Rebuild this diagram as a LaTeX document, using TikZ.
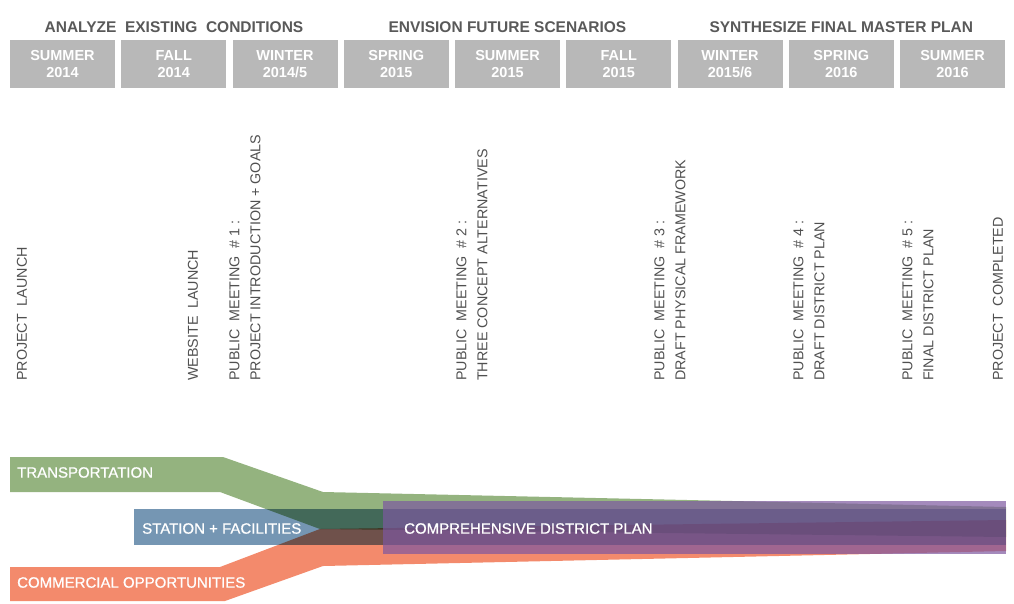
\documentclass[tikz,border=0pt]{standalone}
\usepackage{fontspec}
\setmainfont{Liberation Sans}
\newfontfamily\bandfont[FakeBold=0.8]{Liberation Sans}
\definecolor{hdrgray}{RGB}{184,184,184}
\definecolor{titlegray}{RGB}{89,89,89}
\definecolor{txtgray}{RGB}{80,80,80}
\definecolor{transgreen}{RGB}{148,179,127}
\definecolor{stationblue}{RGB}{117,150,179}
\definecolor{commorange}{RGB}{243,138,108}
\definecolor{planpurple}{RGB}{125,88,160}
\tikzset{
  season/.style={fill=hdrgray,minimum width=105pt,minimum height=48pt,inner sep=0pt,
    align=center,text=white,font=\bfseries\fontsize{14.5}{17.5}\selectfont},
  phase/.style={inner sep=0pt,text=titlegray,font=\bfseries\fontsize{15.5}{18}\selectfont},
  milestone/.style={rotate=90,anchor=west,align=left,inner sep=0pt,text=txtgray,
    font=\fontsize{14.3}{21}\selectfont},
  bandlabel/.style={anchor=west,inner sep=0pt,text=white,font=\bandfont\fontsize{15}{18}\selectfont}
}

\begin{document}
\begin{tikzpicture}[x=1pt,y=-1pt]
    \useasboundingbox (0,0) rectangle (1014,603);
    %
    % -- Phases over the seasons
    \node [phase] (analyze)    at (174,27)    {ANALYZE~ EXISTING~ CONDITIONS};
    \node [phase] (envision)   at (507.5,27)  {ENVISION FUTURE SCENARIOS};
    \node [phase] (synthesize) at (841.25,27) {SYNTHESIZE FINAL MASTER PLAN};

    % -- Seasons
    \node [season] (su14) at (62.5,64)   {SUMMER\\2014};
    \node [season] (fa14) at (173.75,64) {FALL\\2014};
    \node [season] (wi14) at (285,64)    {WINTER\\2014/5};
    \node [season] (sp15) at (396.25,64) {SPRING\\2015};
    \node [season] (su15) at (507.5,64)  {SUMMER\\2015};
    \node [season] (fa15) at (618.75,64) {FALL\\2015};
    \node [season] (wi15) at (730,64)    {WINTER\\2015/6};
    \node [season] (sp16) at (841.25,64) {SPRING\\2016};
    \node [season] (su16) at (952.5,64)  {SUMMER\\2016};

    % -- Milestones, read from the bottom up
    \node [milestone] (launch)  at (22,381)  {PROJECT~ LAUNCH};
    \node [milestone] (website) at (193,381) {WEBSITE~ LAUNCH};
    \node [milestone] (pm1) at (245,381) {PUBLIC~ MEETING~ \# 1 :\\PROJECT INTRODUCTION + GOALS};
    \node [milestone] (pm2) at (472,381) {PUBLIC~ MEETING~ \# 2 :\\THREE CONCEPT ALTERNATIVES};
    \node [milestone] (pm3) at (670,381) {PUBLIC~ MEETING~ \# 3 :\\DRAFT PHYSICAL FRAMEWORK};
    \node [milestone] (pm4) at (809,381) {PUBLIC~ MEETING~ \# 4 :\\DRAFT DISTRICT PLAN};
    \node [milestone] (pm5) at (918,381) {PUBLIC~ MEETING~ \# 5 :\\FINAL DISTRICT PLAN};
    \node [milestone] (done) at (998,381) {PROJECT~ COMPLETED};

    % -- Bands that merge into the plan
    \begin{scope}[blend mode=multiply]
      \fill [stationblue] (134,509) rectangle (1006,545);
      \fill [transgreen] (10,457) -- (223,457) -- (323,492) -- (1006,507)
        -- (1006,537) -- (320,529) -- (220,492) -- (10,492) -- cycle;
      \fill [commorange] (10,567) -- (220,567) -- (320,529) -- (1006,520)
        -- (1006,551) -- (323,566) -- (225,601) -- (10,601) -- cycle;
    \end{scope}
    \fill [planpurple,fill opacity=0.7] (383,501) rectangle (1006,554);

    % -- Band labels
    \node [bandlabel] (trans)   at (17,472.5)  {TRANSPORTATION};
    \node [bandlabel] (station) at (142,528.5) {STATION + FACILITIES};
    \node [bandlabel] (comm)    at (17,582.5)  {COMMERCIAL OPPORTUNITIES};
    \node [bandlabel] (plan)    at (404,528.5) {COMPREHENSIVE DISTRICT PLAN};
\end{tikzpicture}
\end{document}
